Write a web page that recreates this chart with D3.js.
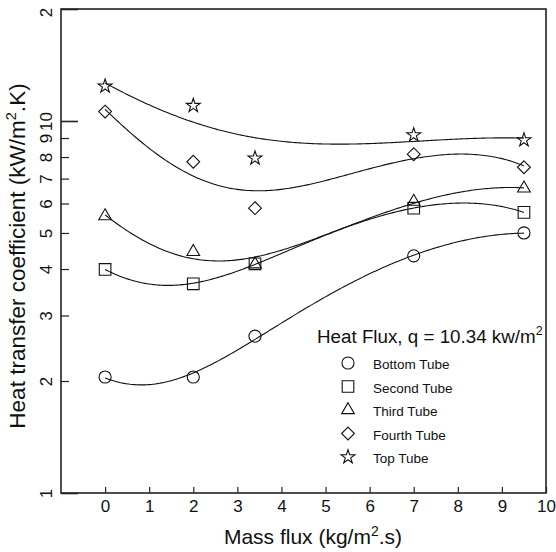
<!DOCTYPE html>
<html>
<head>
<meta charset="utf-8">
<script src="https://cdn.jsdelivr.net/npm/d3@7"></script>
<style>
  html, body { margin: 0; padding: 0; background: #fff; }
  svg { display: block; font-family: "Liberation Sans", Arial, Helvetica, sans-serif; }
</style>
</head>
<body>
<svg id="chart" width="556" height="552"></svg>
<script>
// ---- Data ----
const massFlux = [0, 2, 3.4, 7, 9.5];
const bottomTube = [2.05, 2.05, 2.64, 4.34, 5.0];
const secondTube = [3.99, 3.65, 4.13, 5.83, 5.68];
const thirdTube  = [5.55, 4.45, 4.12, 6.07, 6.59];
const fourthTube = [10.6, 7.77, 5.83, 8.14, 7.51];
const topTube    = [12.4, 11.0, 7.94, 9.17, 8.89];

const seriesNames = ["Bottom Tube", "Second Tube", "Third Tube", "Fourth Tube", "Top Tube"];
const seriesValues = [bottomTube, secondTube, thirdTube, fourthTube, topTube];
const seriesSymbols = ["circle", "square", "triangle", "diamond", "star"];

const xTickValues = [0, 1, 2, 3, 4, 5, 6, 7, 8, 9, 10];
const yTickValues = [1, 2, 3, 4, 5, 6, 7, 8, 9, 10, 20];
const yTickLabels = ["1", "2", "3", "4", "5", "6", "7", "8", "9", "10", "2"];
const yMajorTicks = [1, 10, 20];

// ---- Layout ----
const svg = d3.select("#chart");
const pL = 61, pR = 546, pT = 9, pB = 493;

const x = d3.scaleLinear().domain([-1, 10]).range([pL, pR]);
const y = d3.scaleLog().domain([1, 20]).range([pB, pT]);

// cubic least squares fit
function polyFit(xs, ys, deg) {
  const n = deg + 1;
  const A = Array.from({length: n}, () => new Array(n + 1).fill(0));
  for (let k = 0; k < xs.length; k++) {
    for (let i = 0; i < n; i++) {
      for (let j = 0; j < n; j++) A[i][j] += Math.pow(xs[k], i + j);
      A[i][n] += ys[k] * Math.pow(xs[k], i);
    }
  }
  for (let i = 0; i < n; i++) {
    let p = i;
    for (let r = i + 1; r < n; r++) if (Math.abs(A[r][i]) > Math.abs(A[p][i])) p = r;
    [A[i], A[p]] = [A[p], A[i]];
    for (let r = 0; r < n; r++) {
      if (r === i) continue;
      const f = A[r][i] / A[i][i];
      for (let c = i; c <= n; c++) A[r][c] -= f * A[i][c];
    }
  }
  return A.map((row, i) => row[n] / row[i]);
}
const evalPoly = (c, v) => c.reduce((s, ci, i) => s + ci * Math.pow(v, i), 0);

// ---- Frame ----
svg.append("rect")
  .attr("x", pL).attr("y", pT)
  .attr("width", pR - pL).attr("height", pB - pT)
  .attr("fill", "none").attr("stroke", "#222").attr("stroke-width", 1.6);

// ---- X axis ----
const xAxis = d3.axisBottom(x).tickValues(xTickValues).tickSize(0).tickPadding(0).tickFormat(d3.format("d"));
const gx = svg.append("g").attr("transform", `translate(0,${pB})`).call(xAxis);
gx.select(".domain").remove();
gx.selectAll(".tick line").remove();
gx.selectAll(".tick text").attr("y", 19).attr("dy", 0)
  .attr("font-size", 17).attr("fill", "#111").attr("font-family", null);
gx.selectAll(".tick").append("line")
  .attr("y1", 0).attr("y2", -6).attr("stroke", "#222").attr("stroke-width", 1.2);

// ---- Y axis ----
const yAxis = d3.axisLeft(y).tickValues(yTickValues).tickSize(0).tickPadding(0)
  .tickFormat((d, i) => yTickLabels[i]);
const gy = svg.append("g").attr("transform", `translate(${pL},0)`).call(yAxis);
gy.select(".domain").remove();
gy.selectAll(".tick line").remove();
gy.selectAll(".tick text")
  .attr("x", null).attr("dy", null)
  .attr("transform", d => d === 20 ? "translate(-9,3) rotate(-90)" : "translate(-9,0) rotate(-90)")
  .attr("text-anchor", "middle")
  .attr("font-size", 17).attr("fill", "#111").attr("font-family", null);
gy.selectAll(".tick").append("line")
  .attr("x1", 0).attr("x2", d => yMajorTicks.includes(d) ? 17 : 8)
  .attr("stroke", "#222").attr("stroke-width", d => yMajorTicks.includes(d) ? 1.6 : 1.2);

// ---- Axis titles ----
const xTitle = svg.append("text")
  .attr("x", 313).attr("y", 544)
  .attr("text-anchor", "middle").attr("font-size", 21).attr("fill", "#111");
xTitle.append("tspan").text("Mass flux (kg/m");
xTitle.append("tspan").attr("font-size", 14).attr("dy", -8).text("2");
xTitle.append("tspan").attr("dy", 8).text(".s)");

const yTitle = svg.append("text")
  .attr("transform", `translate(25,256) rotate(-90)`)
  .attr("text-anchor", "middle").attr("font-size", 22.5).attr("fill", "#111");
yTitle.append("tspan").text("Heat transfer coefficient (kW/m");
yTitle.append("tspan").attr("font-size", 14.5).attr("dy", -9).text("2");
yTitle.append("tspan").attr("dy", 9).text(".K)");

// ---- Symbols ----
const symbolFor = {
  circle:   d3.symbol().type(d3.symbolCircle).size(115),
  square:   d3.symbol().type(d3.symbolSquare).size(135),
  triangle: d3.symbol().type(d3.symbolTriangle).size(70),
  diamond:  d3.symbol().type(d3.symbolDiamond2).size(105),
  star:     d3.symbol().type(d3.symbolStar).size(60)
};

// ---- Fitted curves ----
const line = d3.line().x(d => x(d[0])).y(d => y(d[1])).curve(d3.curveLinear);
const xmin = d3.min(massFlux), xmax = d3.max(massFlux);
const samples = d3.range(0, 201).map(i => xmin + (xmax - xmin) * i / 200);

const plot = svg.append("g");
seriesValues.forEach((vals, si) => {
  const c = polyFit(massFlux, vals, 3);
  plot.append("path")
    .attr("d", line(samples.map(v => [v, evalPoly(c, v)])))
    .attr("fill", "none").attr("stroke", "#111").attr("stroke-width", 1.1);
});
seriesValues.forEach((vals, si) => {
  plot.selectAll(null).data(vals.map((v, i) => [massFlux[i], v]))
    .join("path")
    .attr("transform", d => `translate(${x(d[0])},${y(d[1])})`)
    .attr("d", symbolFor[seriesSymbols[si]]())
    .attr("fill", "none").attr("stroke", "#111").attr("stroke-width", 1.1);
});

// ---- Legend ----
const legendTitle = svg.append("text").attr("x", 317).attr("y", 343)
  .attr("font-size", 18.8).attr("fill", "#111");
legendTitle.append("tspan").text("Heat Flux, q = 10.34 kw/m");
legendTitle.append("tspan").attr("font-size", 12.5).attr("dy", -8).text("2");

const legend = svg.append("g");
seriesNames.forEach((name, i) => {
  const yb = 369 + i * 23.5;
  legend.append("path")
    .attr("transform", `translate(348,${yb - 6})`)
    .attr("d", symbolFor[seriesSymbols[i]]())
    .attr("fill", "none").attr("stroke", "#111").attr("stroke-width", 1.1);
  legend.append("text").attr("x", 373).attr("y", yb)
    .attr("font-size", 13.5).attr("fill", "#111").text(name);
});
</script>
</body>
</html>
